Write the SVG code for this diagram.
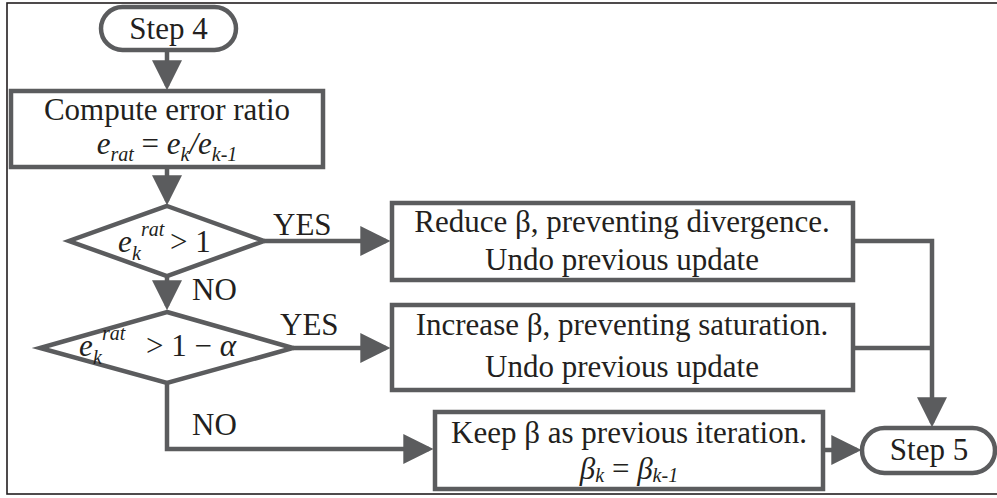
<svg xmlns="http://www.w3.org/2000/svg" width="997" height="498" viewBox="0 0 997 498">
<defs>
<style>
.sh{fill:#fff;stroke:#5b5c5e;stroke-width:4.5}
.ln{fill:none;stroke:#5b5c5e;stroke-width:4.5}
.t{font-family:"Liberation Serif","Times New Roman",serif;font-size:31px;fill:#231f20}
.i{font-style:italic}
.s{font-size:20px;font-style:italic}
</style>
<marker id="ah" markerUnits="userSpaceOnUse" markerWidth="30" markerHeight="30" viewBox="0 0 28 28" refX="24" refY="14" orient="auto">
<path d="M0,0 L28,14 L0,28 z" fill="#5b5c5e"/>
</marker>
</defs>
<rect x="0" y="0" width="997" height="498" fill="#fff"/>
<rect x="7" y="3" width="1010" height="491" fill="none" stroke="#231f20" stroke-width="1.6"/>

<g id="connectors">
<line class="ln" x1="167" y1="52" x2="167" y2="86" marker-end="url(#ah)"/>
<line class="ln" x1="167" y1="169" x2="167" y2="201" marker-end="url(#ah)"/>
<line class="ln" x1="264" y1="241" x2="386" y2="241" marker-end="url(#ah)"/>
<line class="ln" x1="167" y1="276" x2="167" y2="306" marker-end="url(#ah)"/>
<line class="ln" x1="293" y1="348" x2="386" y2="348" marker-end="url(#ah)"/>
<polyline class="ln" points="167,383 167,449 429,449" marker-end="url(#ah)"/>
<line class="ln" x1="823" y1="450" x2="857" y2="450" marker-end="url(#ah)"/>
<polyline class="ln" points="853,241 932,241 932,423" marker-end="url(#ah)"/>
<line class="ln" x1="853" y1="348" x2="932" y2="348"/>
<text class="t" x="273" y="235">YES</text>
<text class="t" x="192" y="300">NO</text>
<text class="t" x="280" y="335">YES</text>
<text class="t" x="192" y="435">NO</text>
</g>

<g id="step4">
<rect class="sh" x="101" y="7" width="135" height="43" rx="21.5"/>
<text class="t" x="168.5" y="39" text-anchor="middle">Step 4</text>
</g>

<g id="compute">
<rect class="sh" x="11" y="91" width="312" height="76"/>
<text class="t" x="167" y="120" text-anchor="middle">Compute error ratio</text>
<text class="t i" x="167" y="154" text-anchor="middle">e<tspan class="s" dy="7">rat</tspan><tspan font-style="normal" dy="-7"> = </tspan>e<tspan class="s" dy="7">k</tspan><tspan dy="-7">/e</tspan><tspan class="s" dy="7">k-1</tspan></text>
</g>

<g id="decision1">
<polygon class="sh" points="167,206 264,241 167,276 69,241"/>
<text class="t i" x="118" y="252">e</text>
<text class="t s" x="132" y="260">k</text>
<text class="t s" x="141" y="236">rat</text>
<text class="t" x="170" y="252">&gt; 1</text>
</g>

<g id="decision2">
<polygon class="sh" points="167,312 293,348 167,383 40,348"/>
<text class="t i" x="79" y="356">e</text>
<text class="t s" x="93" y="364">k</text>
<text class="t s" x="102" y="340">rat</text>
<text class="t" x="146" y="356">&gt; 1 − <tspan class="i">α</tspan></text>
</g>

<g id="reduce">
<rect class="sh" x="392" y="203" width="461" height="77"/>
<text class="t" x="622" y="232" text-anchor="middle">Reduce β, preventing divergence.</text>
<text class="t" x="622" y="270" text-anchor="middle">Undo previous update</text>
</g>

<g id="increase">
<rect class="sh" x="392" y="305" width="461" height="85"/>
<text class="t" x="622" y="335" text-anchor="middle">Increase β, preventing saturation.</text>
<text class="t" x="622" y="377" text-anchor="middle">Undo previous update</text>
</g>

<g id="keep">
<rect class="sh" x="435" y="412" width="388" height="77"/>
<text class="t" x="629" y="443" text-anchor="middle">Keep β as previous iteration.</text>
<text class="t i" x="629" y="479" text-anchor="middle">β<tspan class="s" dy="3">k</tspan><tspan font-style="normal" dy="-3"> = </tspan>β<tspan class="s" dy="3">k-1</tspan></text>
</g>

<g id="step5">
<rect class="sh" x="862" y="428" width="133" height="45" rx="22.5"/>
<text class="t" x="929" y="460" text-anchor="middle">Step 5</text>
</g>
</svg>
